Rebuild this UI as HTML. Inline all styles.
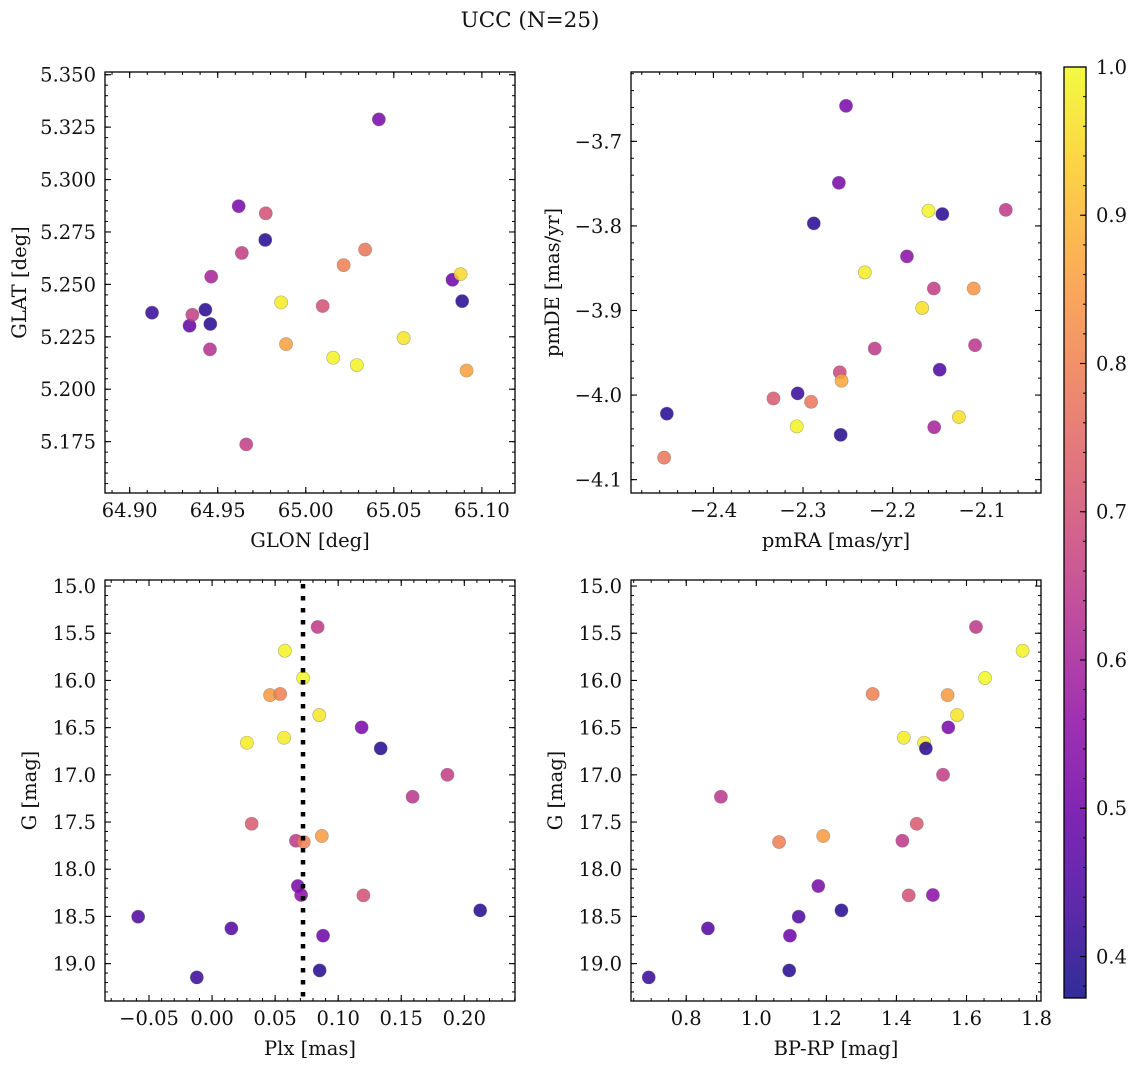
<!DOCTYPE html>
<html><head><meta charset="utf-8"><style>
html,body{margin:0;padding:0;background:#fff;}
svg{display:block;font-family:"DejaVu Serif","Liberation Serif",serif;}
</style></head><body>
<svg id="fig" width="1136" height="1067" viewBox="0 0 1136 1067" xmlns="http://www.w3.org/2000/svg">
<rect width="1136" height="1067" fill="#fff"/>
<text x="530" y="27" font-size="21.5" text-anchor="middle" fill="#111">UCC (N=25)</text>
</svg>
<script>
// ---- data ----
const glon = [64.9127,64.934,64.9356,64.943,64.9458,64.9456,64.9463,64.9619,64.9637,64.9662,64.977,64.9773,64.986,64.9888,65.0096,65.0156,65.0215,65.029,65.0337,65.0415,65.0556,65.0833,65.0879,65.0888,65.0913];
const glat = [5.2365,5.2303,5.2355,5.2379,5.2311,5.219,5.2537,5.2873,5.265,5.1737,5.2712,5.2839,5.2414,5.2215,5.2397,5.215,5.2592,5.2115,5.2666,5.3287,5.2244,5.2522,5.2549,5.242,5.2089];
const probPos = [0.42,0.48,0.66,0.40,0.40,0.63,0.60,0.52,0.66,0.66,0.40,0.70,0.98,0.86,0.70,0.99,0.80,0.99,0.78,0.52,0.97,0.50,0.95,0.40,0.86];
const pmra = [-2.252,-2.260,-2.288,-2.160,-2.1445,-2.0737,-2.184,-2.231,-2.154,-2.1095,-2.167,-2.220,-2.108,-2.1475,-2.259,-2.257,-2.306,-2.333,-2.291,-2.452,-2.126,-2.307,-2.1536,-2.258,-2.455];
const pmde = [-3.658,-3.749,-3.797,-3.782,-3.786,-3.781,-3.836,-3.855,-3.874,-3.874,-3.897,-3.945,-3.941,-3.970,-3.973,-3.983,-3.998,-4.004,-4.008,-4.022,-4.026,-4.037,-4.038,-4.047,-4.074];
const probPM = [0.52,0.52,0.40,0.99,0.40,0.65,0.55,0.98,0.66,0.84,0.96,0.65,0.64,0.45,0.68,0.87,0.42,0.72,0.78,0.40,0.96,0.99,0.60,0.40,0.78];
const gmag = [15.434,15.685,15.975,16.155,16.144,16.367,16.497,16.660,16.607,16.720,16.999,17.232,17.518,17.698,17.712,17.648,18.178,18.273,18.277,18.436,18.503,18.627,18.704,19.072,19.146];
const plx = [0.0837,0.0577,0.0722,0.046,0.054,0.085,0.1186,0.0276,0.0571,0.1337,0.1866,0.159,0.0314,0.0665,0.0727,0.087,0.068,0.0706,0.1200,0.2126,-0.0586,0.0153,0.088,0.0853,-0.0121];
const bprp = [1.627,1.760,1.653,1.546,1.332,1.573,1.548,1.479,1.421,1.484,1.533,0.899,1.458,1.417,1.065,1.191,1.177,1.504,1.435,1.243,1.121,0.862,1.096,1.094,0.693];
const probCMD = [0.65,0.99,1.0,0.85,0.80,0.97,0.52,0.98,0.98,0.40,0.66,0.64,0.72,0.65,0.80,0.85,0.52,0.55,0.70,0.40,0.45,0.46,0.50,0.40,0.42];
const plxMedian = [0.0721];
const cbarTicks = [0.4,0.5,0.6,0.7,0.8,0.9,1.0];
const vmin = 0.372, vmax = 1.0;

const NS="http://www.w3.org/2000/svg";
const svg=document.getElementById('fig');
const FS=19.5;
function mk(tag,attrs,parent){const e=document.createElementNS(NS,tag);for(const k in attrs)e.setAttribute(k,attrs[k]);(parent||svg).appendChild(e);return e;}

const plasma=[[13,8,135],[65,4,157],[106,0,168],[143,13,164],[177,42,144],[204,71,120],[225,100,98],[242,132,75],[252,166,54],[252,206,37],[240,249,33]];
function cmap(v){let t=(v-vmin)/(vmax-vmin);t=Math.max(0,Math.min(1,t));const f=t*10;const i=Math.min(9,Math.floor(f));const r=f-i;const a=plasma[i],b=plasma[i+1];
 return 'rgb('+a.map((c,k)=>Math.round(c+(b[k]-c)*r)).join(',')+')';}

function fmt(v,d){const s=Math.abs(v).toFixed(d);return (v<-1e-9?'\u2212':'')+s;}

function panel(cfg){
 const g=mk('g',{});
 
 
 const {x0,y0,w,h,xlim,ylim}=cfg;
 const sx=v=>x0+(v-xlim[0])/(xlim[1]-xlim[0])*w;
 const sy=v=>y0+(v-ylim[0])/(ylim[1]-ylim[0])*h;
 const pg=mk('g',{},g);
 
 
 if(cfg.vline){cfg.vline.forEach(v=>{const l=mk('line',{x1:sx(v),x2:sx(v),y1:y0+4,y2:y0+h,stroke:'#000','stroke-width':4.5,'stroke-dasharray':'4.5 7.5'},g);
  
  });}
 for(let i=0;i<cfg.xs.length;i++){
  const c=mk('circle',{cx:sx(cfg.xs[i]),cy:sy(cfg.ys[i]),r:6.6,fill:cmap(cfg.cs[i]),'fill-opacity':0.85,stroke:'#666','stroke-opacity':0.5,'stroke-width':0.6},pg);
  
  
 }
 const fr=mk('rect',{x:x0,y:y0,width:w,height:h,fill:'none',stroke:'#000','stroke-width':1.3},g);
 
 
 function ticks(lo,hi,step){const a=[];const s=Math.ceil(lo/step-1e-6);for(let k=s;k*step<=hi+1e-9;k++)a.push(k*step);return a;}
 const xl=Math.min(...xlim),xh=Math.max(...xlim),yl=Math.min(...ylim),yh=Math.max(...ylim);
 ticks(xl,xh,cfg.xminor).forEach(v=>{const X=sx(v);mk('line',{x1:X,x2:X,y1:y0+h,y2:y0+h-3,stroke:'#000','stroke-width':1},g);mk('line',{x1:X,x2:X,y1:y0,y2:y0+3,stroke:'#000','stroke-width':1},g);});
 ticks(yl,yh,cfg.yminor).forEach(v=>{const Y=sy(v);mk('line',{x1:x0,x2:x0+3,y1:Y,y2:Y,stroke:'#000','stroke-width':1},g);mk('line',{x1:x0+w,x2:x0+w-3,y1:Y,y2:Y,stroke:'#000','stroke-width':1},g);});
 ticks(xl,xh,cfg.xmajor).forEach(v=>{const X=sx(v);mk('line',{x1:X,x2:X,y1:y0+h,y2:y0+h-6,stroke:'#000','stroke-width':1.1},g);mk('line',{x1:X,x2:X,y1:y0,y2:y0+6,stroke:'#000','stroke-width':1.1},g);
  const t=mk('text',{x:X,y:y0+h+24,'font-size':FS,'text-anchor':'middle',fill:'#111'},g);t.textContent=fmt(v,cfg.xdec);
  
  });
 ticks(yl,yh,cfg.ymajor).forEach(v=>{const Y=sy(v);mk('line',{x1:x0,x2:x0+6,y1:Y,y2:Y,stroke:'#000','stroke-width':1.1},g);mk('line',{x1:x0+w,x2:x0+w-6,y1:Y,y2:Y,stroke:'#000','stroke-width':1.1},g);
  const t=mk('text',{x:x0-9,y:Y+7,'font-size':FS,'text-anchor':'end',fill:'#111'},g);t.textContent=fmt(v,cfg.ydec);
  
  });
 const xt=mk('text',{x:x0+w/2,y:y0+h+54,'font-size':FS,'text-anchor':'middle',fill:'#111'},g);xt.textContent=cfg.xlabel;
 
 
 const yt=mk('text',{x:0,y:0,'font-size':FS,'text-anchor':'middle',fill:'#111',transform:`translate(${cfg.ylx},${y0+h/2}) rotate(-90)`},g);yt.textContent=cfg.ylabel;
 
 
}

panel({name:'glon-glat-panel',x0:105,y0:72,w:410,h:421,xlim:[64.886,65.1188],ylim:[5.3513,5.1505],xs:glon,ys:glat,cs:probPos,
 xmajor:0.05,xminor:0.01,ymajor:0.025,yminor:0.005,xdec:2,ydec:3,xlabel:'GLON [deg]',ylabel:'GLAT [deg]',ylx:26});
panel({name:'pm-panel',x0:631,y0:72,w:410,h:421,xlim:[-2.492,-2.0344],ylim:[-3.618,-4.1158],xs:pmra,ys:pmde,cs:probPM,
 xmajor:0.1,xminor:0.02,ymajor:0.1,yminor:0.02,xdec:1,ydec:1,xlabel:'pmRA [mas/yr]',ylabel:'pmDE [mas/yr]',ylx:559});
panel({name:'plx-g-panel',x0:105,y0:580,w:410,h:421,xlim:[-0.0849,0.2402],ylim:[14.936,19.396],xs:plx,ys:gmag,cs:probCMD,vline:plxMedian,
 xmajor:0.05,xminor:0.01,ymajor:0.5,yminor:0.1,xdec:2,ydec:1,xlabel:'Plx [mas]',ylabel:'G [mag]',ylx:36});
panel({name:'cmd-panel',x0:631,y0:580,w:410,h:421,xlim:[0.6424,1.8126],ylim:[14.936,19.396],xs:bprp,ys:gmag,cs:probCMD,
 xmajor:0.2,xminor:0.05,ymajor:0.5,yminor:0.1,xdec:1,ydec:1,xlabel:'BP-RP [mag]',ylabel:'G [mag]',ylx:562});

(function(){
 const cx=1064,cy=67,cw=22,ch=931;
 const g=mk('g',{});
 
 
 const defs=mk('defs',{},g);
 const lg=mk('linearGradient',{id:'cb',x1:0,y1:1,x2:0,y2:0},defs);
 for(let i=0;i<=20;i++){const v=vmin+(vmax-vmin)*i/20;mk('stop',{offset:i/20,'stop-color':cmap(v)},lg);}
 mk('rect',{x:cx,y:cy,width:cw,height:ch,fill:'url(#cb)','fill-opacity':0.85},g);
 mk('rect',{x:cx,y:cy,width:cw,height:ch,fill:'none',stroke:'#000','stroke-width':1.3},g);
 const sy=v=>cy+ch-(v-vmin)/(vmax-vmin)*ch;
 for(let v=0.38;v<=1.0001;v+=0.02){const Y=sy(v);mk('line',{x1:cx+cw,x2:cx+cw-3,y1:Y,y2:Y,stroke:'#000','stroke-width':1},g);}
 cbarTicks.forEach(v=>{const Y=sy(v);mk('line',{x1:cx+cw,x2:cx+cw-6,y1:Y,y2:Y,stroke:'#000','stroke-width':1.1},g);
  const t=mk('text',{x:cx+cw+10,y:Y+7,'font-size':FS,fill:'#111'},g);t.textContent=v.toFixed(1);
  
  });
})();
</script>
</body></html>
